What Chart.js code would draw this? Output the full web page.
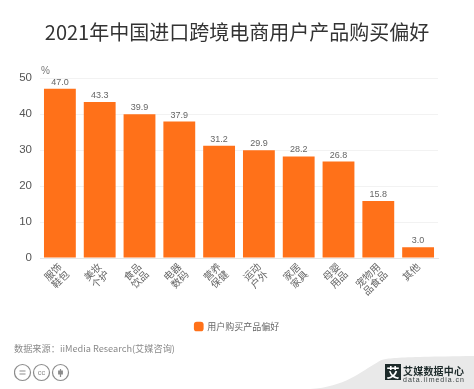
<!DOCTYPE html>
<html>
<head>
<meta charset="utf-8">
<script src="https://cdn.jsdelivr.net/npm/chart.js@4/dist/chart.umd.min.js"></script>
<style>
  html, body { margin: 0; padding: 0; background: #fff; }
  #wrap { position: relative; width: 474px; height: 389px; overflow: hidden; font-family: "Noto Sans CJK SC", sans-serif; }
  #myChart { position: absolute; left: 0; top: 0; }
  #source { position: absolute; left: 14px; top: 341px; font-size: 9.2px; line-height: 14px; color: #8a8a8a; }
  #icons { position: absolute; left: 14px; top: 363px; }
  #logo { position: absolute; left: 310px; top: 350px; }
</style>
</head>
<body>
<div id="wrap">
  <canvas id="myChart" width="474" height="389"></canvas>
  <div id="source">数据来源：iiMedia Research(艾媒咨询)</div>
  <svg id="icons" width="56" height="19" fill="none" stroke="#8c8c8c" stroke-width="1.2">
    <circle cx="8.5" cy="9.5" r="8"></circle>
    <path d="M5.5 8h6M5.5 11h6"></path>
    <circle cx="27.5" cy="9.5" r="8"></circle>
    <text x="27.5" y="12" font-size="7.5" text-anchor="middle" stroke="none" fill="#8c8c8c" font-family="Liberation Sans">cc</text>
    <circle cx="46.5" cy="9.5" r="8"></circle>
    <path d="M46.5 6v8M44.7 8h3.6v3h-3.6z" fill="#8c8c8c"></path>
  </svg>
  <svg id="logo" width="164" height="39">
    <path d="M0 39C35 37 50 22 68 12C74 8 80 7 164 6V39Z" fill="#e9e9e9"></path>
    <rect x="75" y="14" width="16" height="16" fill="#1d2a2a"></rect>
    <text x="83" y="27" font-size="13" font-weight="700" text-anchor="middle" fill="#fff" font-family="Noto Sans CJK SC">艾</text>
    <text x="93" y="25" font-size="10" font-weight="700" fill="#1d2a2a" font-family="Noto Sans CJK SC" textLength="61">艾媒数据中心</text>
    <text x="93" y="31.5" font-size="7" fill="#3a4444" font-family="Liberation Sans" textLength="61">data.iimedia.cn</text>
  </svg>
</div>
<script>
const titleText = "2021年中国进口跨境电商用户产品购买偏好";
const seriesName = "用户购买产品偏好";
const categories = [
  ["服饰", "鞋包"], ["美妆", "个护"], ["食品", "饮品"], ["电器", "数码"], ["营养", "保健"],
  ["运动", "户外"], ["家居", "家具"], ["母婴", "用品"], ["宠物用", "品食品"], ["其他"]
];
const values = [47.0, 43.3, 39.9, 37.9, 31.2, 29.9, 28.2, 26.8, 15.8, 3.0];
const yTicks = [0, 10, 20, 30, 40, 50];

const cjk = '"Noto Sans CJK SC", sans-serif';

// value above each bar + the % unit over the y axis
const barLabels = {
  id: 'barLabels',
  afterDatasetsDraw(chart) {
    const ctx = chart.ctx;
    const meta = chart.getDatasetMeta(0);
    ctx.save();
    ctx.fillStyle = '#666';
    ctx.font = '9px "Liberation Sans", sans-serif';
    ctx.textAlign = 'center';
    ctx.textBaseline = 'bottom';
    meta.data.forEach((bar, i) => {
      ctx.fillText(values[i].toFixed(1), bar.x, bar.y - 2);
    });
    ctx.fillStyle = '#777';
    ctx.textAlign = 'left';
    ctx.font = '10px "Liberation Sans", sans-serif';
    ctx.fillText('%', chart.chartArea.left + 1, chart.chartArea.top - 2);
    ctx.restore();
  }
};

new Chart(document.getElementById('myChart'), {
  type: 'bar',
  data: {
    labels: categories,
    datasets: [{
      label: seriesName,
      data: values,
      backgroundColor: '#ff7119',
      categoryPercentage: 0.8,
      barPercentage: 1
    }]
  },
  options: {
    responsive: false,
    animation: false,
    layout: { padding: { left: 0, right: 0, top: 14, bottom: 48 } },
    scales: {
      x: {
        grid: { display: false, drawTicks: false },
        border: { color: '#e6e6e6' },
        afterFit(scale) { scale.height = 60; },
        ticks: {
          color: '#666',
          font: { family: cjk, size: 10, lineHeight: 1.05 },
          maxRotation: 45,
          minRotation: 45,
          autoSkip: false,
          padding: 3
        }
      },
      y: {
        min: 0,
        max: 50,
        afterFit(scale) { scale.width = 40; },
        afterBuildTicks(scale) { scale.ticks = yTicks.map(v => ({ value: v })); },
        grid: { color: '#f2f2f2', drawTicks: false },
        border: { display: false },
        ticks: {
          color: '#555',
          font: { family: '"Liberation Sans", sans-serif', size: 11.5 },
          padding: 8
        }
      },
      // empty right axis, only keeps the plot clear of the right edge
      y2: {
        position: 'right',
        grid: { display: false },
        border: { display: false },
        ticks: { display: false },
        afterFit(scale) { scale.width = 36; }
      }
    },
    plugins: {
      title: {
        display: true,
        text: titleText,
        color: '#333',
        font: { family: cjk, size: 20, weight: 'normal' },
        padding: { top: 6, bottom: 34 }
      },
      legend: {
        display: true,
        position: 'bottom',
        labels: {
          color: '#666',
          font: { family: cjk, size: 9 },
          boxWidth: 8,
          boxHeight: 8,
          usePointStyle: true,
          pointStyle: 'rectRounded',
          padding: 4
        }
      },
      tooltip: { enabled: false }
    }
  },
  plugins: [barLabels]
});
</script>
</body>
</html>
